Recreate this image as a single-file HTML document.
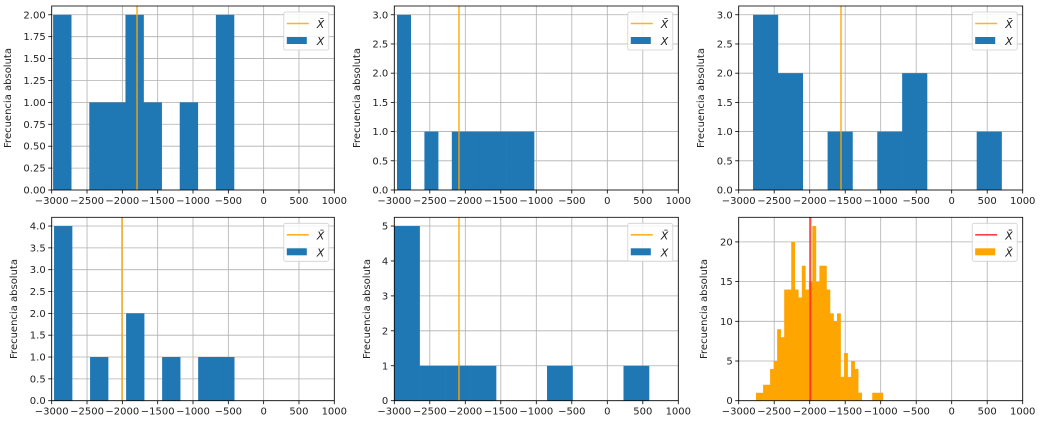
<!DOCTYPE html>
<html><head><meta charset="utf-8"><style>
html,body{margin:0;padding:0;background:#fff;}
svg{display:block;font-family:"DejaVu Sans","Liberation Sans",sans-serif;}
</style></head><body>
<svg id="fig" width="1041" height="424" viewBox="0 0 1041 424" xmlns="http://www.w3.org/2000/svg"></svg>
<script>
// ---- data ----
const xTicks = [-3000,-2500,-2000,-1500,-1000,-500,0,500,1000];
const counts1 = [2,0,1,1,2,1,0,1,0,2];
const counts2 = [3,0,1,0,1,1,1,1,1,1];
const counts3 = [3,2,0,1,0,1,2,0,0,1];
const counts4 = [4,0,1,0,2,0,1,0,1,1];
const counts5 = [5,1,1,1,0,0,1,0,0,1];
const counts6 = [1,1,2,2,4,5,9,8,14,14,20,14,13,17,14,15,22,15,17,17,14,11,10,11,3,6,3,5,4,1,0,0,0,1,1,1];
const binStarts = [-2980,-2962,-2798,-2967,-3003,-2756];
const binWidths = [256,193,350,255,359,49.6];
const means = [-1792,-2089,-1559,-2005,-2089,-1991];
const yMaxes = [2.1,3.15,3.15,4.2,5.25,23.1];
const yTicks1 = [0,0.25,0.5,0.75,1,1.25,1.5,1.75,2];
const yTicks2 = [0,0.5,1,1.5,2,2.5,3];
const yTicks4 = [0,0.5,1,1.5,2,2.5,3,3.5,4];
const yTicks5 = [0,1,2,3,4,5];
const yTicks6 = [0,5,10,15,20];

const NS="http://www.w3.org/2000/svg";
const fig=document.getElementById('fig');
function mk(tag,attrs,parent){const e=document.createElementNS(NS,tag);for(const k in attrs)e.setAttribute(k,attrs[k]);(parent||fig).appendChild(e);return e;}

const boxes=[
 {x0:51.7,x1:334.3,y0:6,y1:190,lab:11},
 {x0:394.3,x1:678.3,y0:6,y1:190,lab:360},
 {x0:738.7,x1:1022.7,y0:6,y1:190,lab:704},
 {x0:51.7,x1:334.3,y0:217.3,y1:400.7,lab:17},
 {x0:394.3,x1:678.3,y0:217.3,y1:400.7,lab:370},
 {x0:738.7,x1:1022.7,y0:217.3,y1:400.7,lab:707}
];
const allCounts=[counts1,counts2,counts3,counts4,counts5,counts6];
const allYTicks=[yTicks1,yTicks2,yTicks2,yTicks4,yTicks5,yTicks6];
const decs=[2,1,1,1,0,0];

boxes.forEach((b,i)=>{
  const g=mk('g',{});
  
  
  const X=v=>b.x0+(v+3000)/4000*(b.x1-b.x0);
  const Y=v=>b.y1-v/yMaxes[i]*(b.y1-b.y0);
  mk('clipPath',{id:'c'+i},g).appendChild(Object.assign(document.createElementNS(NS,'rect'),{}));
  const cp=g.lastChild.firstChild;
  cp.setAttribute('x',b.x0);cp.setAttribute('y',b.y0);cp.setAttribute('width',b.x1-b.x0);cp.setAttribute('height',b.y1-b.y0);
  // grid
  xTicks.forEach(t=>{const l=mk('line',{x1:X(t),x2:X(t),y1:b.y0,y2:b.y1,stroke:'#b0b0b0','stroke-width':0.8},g);
    });
  allYTicks[i].forEach(t=>{const l=mk('line',{x1:b.x0,x2:b.x1,y1:Y(t),y2:Y(t),stroke:'#b0b0b0','stroke-width':0.8},g);
    });
  // bars
  const bg=mk('g',{'clip-path':'url(#c'+i+')'},g);
  const col=i===5?'#ffa500':'#1f77b4';
  allCounts[i].forEach((c,k)=>{
    if(!c)return;
    const xa=X(binStarts[i]+k*binWidths[i]), xb=X(binStarts[i]+(k+1)*binWidths[i]);
    const r=mk('rect',{x:xa,y:Y(c),width:xb-xa+0.3,height:Y(0)-Y(c),fill:col},bg);
    
    
  });
  // mean line
  const ml=mk('line',{x1:X(means[i]),x2:X(means[i]),y1:b.y0,y2:b.y1,stroke:i===5?'#ff2020':'#ffa500','stroke-opacity':i===5?0.8:0.85,'stroke-width':i===5?2:1.6},g);
  
  
  // frame
  const fr=mk('rect',{x:b.x0,y:b.y0,width:b.x1-b.x0,height:b.y1-b.y0,fill:'none',stroke:'#000','stroke-width':0.8},g);
  
  
  // ticks
  xTicks.forEach(t=>{
    mk('line',{x1:X(t),x2:X(t),y1:b.y1,y2:b.y1+3.5,stroke:'#000','stroke-width':0.8},g);
    const tx=mk('text',{x:X(t),y:b.y1+14,'font-size':10,'text-anchor':'middle',fill:'#222'},g);
    tx.textContent=(t<0?'\u2212'+(-t):t);
    
    
  });
  allYTicks[i].forEach(t=>{
    mk('line',{x1:b.x0-3.5,x2:b.x0,y1:Y(t),y2:Y(t),stroke:'#000','stroke-width':0.8},g);
    const tx=mk('text',{x:b.x0-6,y:Y(t)+3.5,'font-size':10,'text-anchor':'end',fill:'#222'},g);
    tx.textContent=t.toFixed(decs[i]);
    
    
  });
  const cy=(b.y0+b.y1)/2;
  const yl=mk('text',{x:b.lab,y:cy,'font-size':10,'text-anchor':'middle',transform:'rotate(-90 '+b.lab+' '+cy+')',fill:'#222'},g);
  yl.textContent='Frecuencia absoluta';
  
  
  // legend
  const lx=b.x1-50.5, ly=b.y0+6;
  const lg=mk('g',{},g);
  
  
  mk('rect',{x:lx,y:ly,width:45,height:38,rx:2,fill:'#fff','fill-opacity':0.85,stroke:'#d0d0d0','stroke-width':0.8},lg);
  mk('line',{x1:lx+3,x2:lx+25,y1:ly+11.5,y2:ly+11.5,stroke:i===5?'#ff2020':'#ffa500','stroke-opacity':0.85,'stroke-width':1.6},lg);
  const t1=mk('text',{x:lx+33,y:ly+16,'font-size':11,'font-style':'italic',fill:'#222'},lg);
  t1.textContent=i===5?'X\u0304\u0304':'X\u0304';
  
  
  mk('rect',{x:lx+3,y:ly+25,width:20,height:7,fill:col},lg);
  const t2=mk('text',{x:lx+33,y:ly+33,'font-size':11,'font-style':'italic',fill:'#222'},lg);
  t2.textContent=i===5?'X\u0304':'X';
  
  
});
</script>
</body></html>
